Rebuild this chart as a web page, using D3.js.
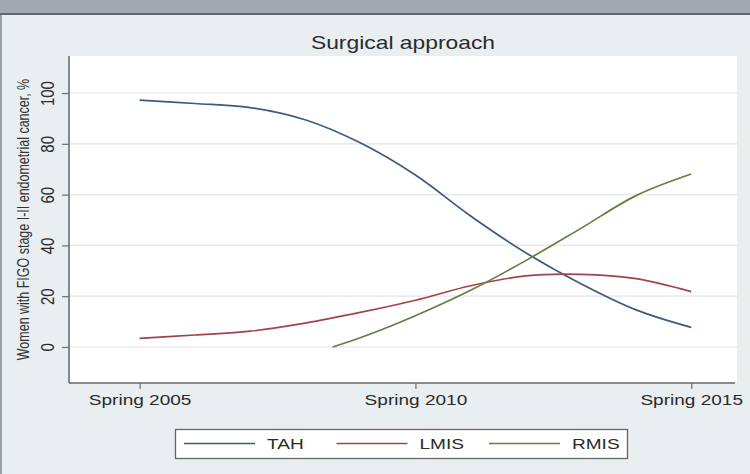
<!DOCTYPE html>
<html>
<head>
<meta charset="utf-8">
<script src="https://cdn.jsdelivr.net/npm/d3@7"></script>
<style>
  body { margin: 0; background: #e9eef1; }
  svg { display: block; font-family: "Liberation Sans", Arial, sans-serif; }
</style>
</head>
<body>
<script>
// data
var years = [2005, 2006, 2007, 2008, 2009, 2010, 2011, 2012, 2013, 2014, 2015];
var tah  = [97.2, 95.9, 94.3, 89.5, 80.4, 67.7, 51.6, 37.1, 24.9, 14.6, 7.7];
var lmis = [3.4, 4.7, 6.2, 9.4, 13.6, 18.4, 24.1, 28.0, 28.6, 26.9, 21.8];
var rmisYears = [2008.5, 2009, 2010, 2011, 2012, 2013, 2014, 2015];
var rmis = [0, 3.6, 12.3, 22.3, 34.0, 46.7, 59.6, 68.1];
var xTicks = [2005, 2010, 2015];
var yTicks = [0, 20, 40, 60, 80, 100];
var seriesNames = ["TAH", "LMIS", "RMIS"];
var colors = ["#3a5b82", "#a3434b", "#647f3f"];

var W = 750, H = 474;
var stretch = 1.27; // the picture is stretched sideways, so is its text
var plot = {left: 69, top: 56, right: 737, bottom: 383};

var svg = d3.select("body").append("svg")
    .attr("width", W)
    .attr("height", H);

// window chrome
svg.append("rect").attr("x", 0).attr("y", 0).attr("width", W).attr("height", 13).attr("fill", "#a3a7b1");
svg.append("line").attr("x1", 0).attr("x2", W).attr("y1", 14).attr("y2", 14).attr("stroke", "#5f6671").attr("stroke-width", 2);
svg.append("line").attr("x1", 1).attr("x2", 1).attr("y1", 15).attr("y2", H).attr("stroke", "#9aa0a8").attr("stroke-width", 2);

// scales
var x = d3.scaleLinear().domain([2003.72, 2015.83]).range([plot.left, plot.right]);
var y = d3.scaleLinear().domain([-14.2, 114.6]).range([plot.bottom, plot.top]);

// plot region
svg.append("rect")
    .attr("x", plot.left).attr("y", plot.top)
    .attr("width", plot.right - plot.left).attr("height", plot.bottom - plot.top)
    .attr("fill", "#ffffff");

// grid lines
svg.append("g").selectAll("line")
    .data(yTicks)
  .enter().append("line")
    .attr("x1", plot.left).attr("x2", plot.right)
    .attr("y1", function(d) { return y(d); })
    .attr("y2", function(d) { return y(d); })
    .attr("stroke", "#ebebeb")
    .attr("stroke-width", 1.6);

function stretchedText(g, tx, ty, rot) {
  return g.append("text")
      .attr("transform", "translate(" + tx + "," + ty + ") scale(" + stretch + ",1)" + (rot ? " rotate(" + rot + ")" : ""));
}

// title
stretchedText(svg, (plot.left + plot.right) / 2, 49)
    .attr("text-anchor", "middle")
    .attr("font-size", 18)
    .attr("fill", "#2b2b2b")
    .text("Surgical approach");

// x axis
var xAxis = svg.append("g")
    .attr("transform", "translate(0," + plot.bottom + ")")
    .call(d3.axisBottom(x).tickValues(xTicks).tickSize(6).tickFormat(function(d) { return "Spring " + d; }));
xAxis.select(".domain").attr("stroke", "#666").attr("stroke-width", 1.5)
    .attr("d", "M" + plot.left + ",0H" + (plot.right - 2));
xAxis.selectAll(".tick line").attr("stroke", "#777").attr("stroke-width", 1.3);
xAxis.selectAll(".tick text")
    .attr("font-size", 15)
    .attr("fill", "#2b2b2b")
    .attr("y", 0).attr("dy", 0)
    .attr("transform", "translate(0,22) scale(" + stretch + ",1)");

// y axis
var yAxis = svg.append("g")
    .attr("transform", "translate(" + plot.left + ",0)")
    .call(d3.axisLeft(y).tickValues(yTicks).tickSize(7).tickFormat(d3.format("d")));
yAxis.select(".domain").attr("stroke", "#666").attr("stroke-width", 1.5)
    .attr("d", "M0," + plot.top + "V" + plot.bottom);
yAxis.selectAll(".tick line").attr("stroke", "#777").attr("stroke-width", 1.3);
yAxis.selectAll(".tick text")
    .attr("font-size", 15)
    .attr("fill", "#2b2b2b")
    .attr("x", 0).attr("dy", 0)
    .attr("text-anchor", "middle")
    .attr("transform", "translate(-21,0) scale(" + stretch + ",1) rotate(-90) translate(0,5)");

// y axis title
stretchedText(svg, 29, (plot.top + plot.bottom) / 2, -90)
    .attr("text-anchor", "middle")
    .attr("font-size", 12.5)
    .attr("fill", "#333")
    .text("Women with FIGO stage I-II endometrial cancer, %");

// lines
var line = d3.line()
    .x(function(d) { return x(d[0]); })
    .y(function(d) { return y(d[1]); })
    .curve(d3.curveCatmullRom.alpha(0.5));

var seriesData = [
  years.map(function(yr, i) { return [yr, tah[i]]; }),
  years.map(function(yr, i) { return [yr, lmis[i]]; }),
  rmisYears.map(function(yr, i) { return [yr, rmis[i]]; })
];

svg.append("g").selectAll("path")
    .data(seriesData)
  .enter().append("path")
    .attr("fill", "none")
    .attr("stroke", function(d, i) { return colors[i]; })
    .attr("stroke-width", 1.7)
    .attr("d", line);

// legend
var legend = svg.append("g");
legend.append("rect")
    .attr("x", 175.5).attr("y", 429.5)
    .attr("width", 452).attr("height", 29)
    .attr("fill", "#ffffff")
    .attr("stroke", "#666")
    .attr("stroke-width", 1.3);

var item = legend.selectAll("g.item")
    .data(seriesNames)
  .enter().append("g")
    .attr("class", "item")
    .attr("transform", function(d, i) { return "translate(" + (184 + i * 152.5) + ",443.5)"; });

item.append("line")
    .attr("x1", 0).attr("x2", 71)
    .attr("y1", 0).attr("y2", 0)
    .attr("stroke", function(d, i) { return colors[i]; })
    .attr("stroke-width", 1.5);

item.append("text")
    .attr("transform", "translate(83,5.5) scale(" + stretch + ",1)")
    .attr("font-size", 15)
    .attr("fill", "#2b2b2b")
    .text(function(d) { return d; });
</script>
</body>
</html>
